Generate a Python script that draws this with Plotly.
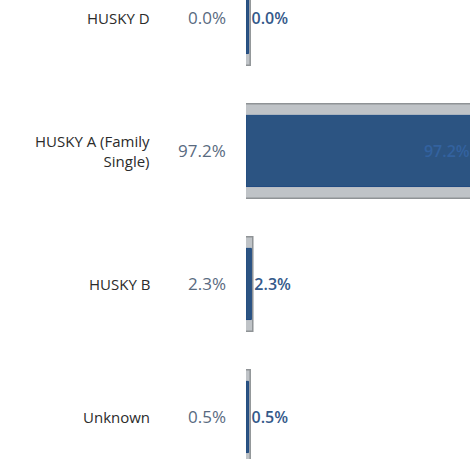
import plotly.graph_objects as go

categories = ["HUSKY D", "HUSKY A (Family<br>Single)", "HUSKY B", "Unknown"]
values = [0.0, 97.2, 2.3, 0.5]
value_labels = ["0.0%", "97.2%", "2.3%", "0.5%"]

ypos = list(range(len(categories)))
BLUE = "#2c5482"
GREY = "#bfc3c7"

fig = go.Figure()
# grey background bars (same measure, wider, with border)
fig.add_trace(go.Bar(
    y=ypos, x=[max(v, 1.2) + 1.2 for v in values], orientation="h",
    width=0.71, base=-0.6,
    marker=dict(color=GREY, line=dict(color="#8f9396", width=1.5)),
    hoverinfo="skip", showlegend=False,
))
# blue bars
fig.add_trace(go.Bar(
    y=ypos, x=[max(v, 1.1) for v in values], orientation="h",
    width=0.535,
    marker=dict(color=BLUE, line=dict(color="#1f4a80", width=1)),
    text=value_labels,
    textposition=["outside", "inside", "outside", "outside"],
    insidetextanchor="end",
    textfont=dict(family="Open Sans", size=16, weight=600,
                  color=["#34598a", "#33629f", "#34598a", "#34598a"]),
    cliponaxis=True,
    showlegend=False,
))

for i, (c, lab) in enumerate(zip(categories, value_labels)):
    fig.add_annotation(x=-0.42, xref="paper", y=i, yref="y", text=c,
                       xanchor="right", align="right", showarrow=False,
                       font=dict(family="Open Sans", size=15, color="#2b2b2b"))
    fig.add_annotation(x=-0.08, xref="paper", y=i, yref="y", text=lab,
                       xanchor="right", align="right", showarrow=False,
                       font=dict(family="Open Sans", size=17, color="#596a80"))

fig.update_layout(
    width=470, height=459,
    margin=dict(l=246, r=0, t=0, b=0),
    plot_bgcolor="white", paper_bgcolor="white",
    barmode="overlay",
    xaxis=dict(range=[0, 96.0], visible=False),
    yaxis=dict(range=[3.316, -0.135], visible=False),
    uniformtext=dict(mode=False),
)
fig.write_html("out.html", config={"displayModeBar": False},
               post_script="document.body.style.margin='0';document.body.style.overflow='hidden';")
